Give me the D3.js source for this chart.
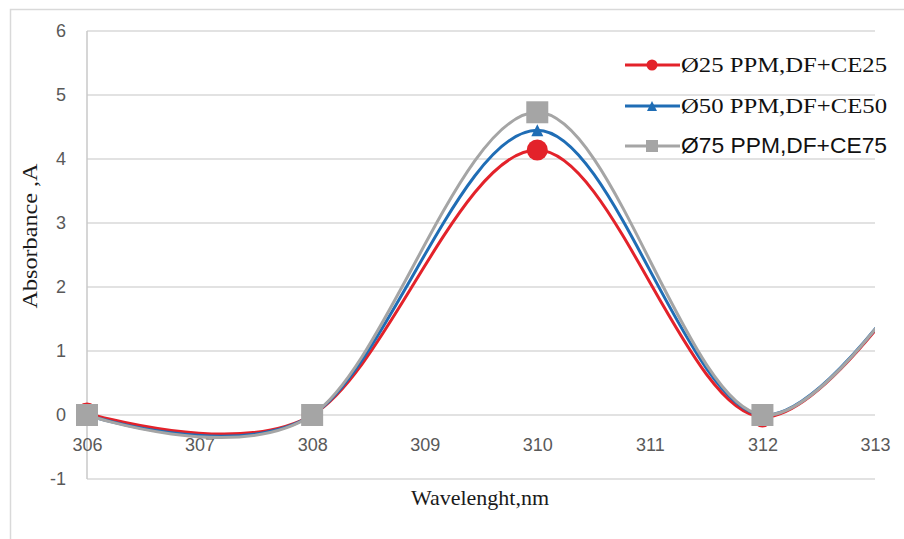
<!DOCTYPE html>
<html>
<head>
<meta charset="utf-8">
<script src="https://cdn.jsdelivr.net/npm/d3@7"></script>
<style>
  html, body { margin: 0; padding: 0; background: #fff; }
  svg { display: block; }
</style>
</head>
<body>
<div id="chart"></div>
<script>
// DATA
const wavelengths = [306, 308, 310, 312, 314];
const ce25 = [0.03, 0, 4.14, -0.03, 3.82];
const ce50 = [0, 0, 4.45, 0, 3.88];
const ce75 = [0, 0, 4.73, 0, 3.92];
const seriesNames = ['Ø25 PPM,DF+CE25', 'Ø50 PPM,DF+CE50', 'Ø75 PPM,DF+CE75'];
const xTicks = [306, 307, 308, 309, 310, 311, 312, 313];
const yTicks = [-1, 0, 1, 2, 3, 4, 5, 6];

const width = 904, height = 539;
const margin = { top: 31, right: 29, bottom: 60, left: 87 };

const svg = d3.select('#chart').append('svg')
    .attr('width', width)
    .attr('height', height);

// outer frame
svg.append('path')
    .attr('d', `M10.5,${height} V9.5 H${width}`)
    .attr('fill', 'none')
    .attr('stroke', '#d9d9d9')
    .attr('stroke-width', 1.5);

const x = d3.scaleLinear()
    .domain([306, 313])
    .range([margin.left, width - margin.right]);

const y = d3.scaleLinear()
    .domain([-1, 6])
    .range([height - margin.bottom, margin.top]);

// GRID
svg.append('g')
    .selectAll('line')
    .data(yTicks)
    .join('line')
    .attr('x1', x(306))
    .attr('x2', x(313))
    .attr('y1', d => y(d))
    .attr('y2', d => y(d))
    .attr('stroke', '#d9d9d9')
    .attr('stroke-width', 1.5);

svg.append('line')
    .attr('x1', x(306)).attr('x2', x(306))
    .attr('y1', y(6)).attr('y2', y(-1))
    .attr('stroke', '#c8c8c8')
    .attr('stroke-width', 1.5);

// AXIS LABELS
const yAxis = svg.append('g')
    .attr('transform', `translate(${x(306) - 21},0)`)
    .call(d3.axisLeft(y).tickValues(yTicks).tickFormat(d => String(d)).tickSize(0).tickPadding(0));
yAxis.select('.domain').remove();
yAxis.selectAll('text')
    .attr('font-family', 'Liberation Sans, Arial, sans-serif')
    .attr('font-size', 18)
    .attr('fill', '#595959');

const xAxis = svg.append('g')
    .attr('transform', `translate(0,${y(0) + 30})`)
    .call(d3.axisBottom(x).tickValues(xTicks).tickFormat(d => String(d)).tickSize(0).tickPadding(0));
xAxis.select('.domain').remove();
xAxis.selectAll('text')
    .attr('font-family', 'Liberation Sans, Arial, sans-serif')
    .attr('font-size', 18)
    .attr('dy', '0.35em')
    .attr('fill', '#595959');

// TITLES
svg.append('text')
    .attr('x', 480)
    .attr('y', 505)
    .attr('text-anchor', 'middle')
    .attr('font-family', 'Liberation Serif, Times New Roman, serif')
    .attr('font-size', 22)
    .attr('fill', '#1a1a1a')
    .text('Wavelenght,nm');

svg.append('text')
    .attr('transform', 'translate(37,236) rotate(-90)')
    .attr('text-anchor', 'middle')
    .attr('font-family', 'Liberation Serif, Times New Roman, serif')
    .attr('font-size', 22)
    .attr('textLength', 145)
    .attr('lengthAdjust', 'spacingAndGlyphs')
    .attr('fill', '#1a1a1a')
    .text('Absorbance ,A');

// SERIES
const series = [
    { name: seriesNames[0], values: ce25, color: '#e3222a', marker: 'circle' },
    { name: seriesNames[1], values: ce50, color: '#1f6db5', marker: 'triangle' },
    { name: seriesNames[2], values: ce75, color: '#a5a5a5', marker: 'square' }
];

svg.append('clipPath').attr('id', 'plot-clip')
    .append('rect')
    .attr('x', x(306) - 2).attr('y', 0)
    .attr('width', x(313) - x(306) + 2).attr('height', height);

const line = d3.line()
    .x(d => x(d[0]))
    .y(d => y(d[1]))
    .curve(d3.curveCardinal.tension(0));

function drawMarker(g, type, cx, cy, size, color) {
    if (type === 'circle') {
        g.append('circle').attr('cx', cx).attr('cy', cy).attr('r', size / 2).attr('fill', color);
    } else if (type === 'triangle') {
        const h = size;
        g.append('path')
            .attr('d', `M${cx},${cy - h / 2} L${cx + size / 2},${cy + h / 2} L${cx - size / 2},${cy + h / 2} Z`)
            .attr('fill', color);
    } else {
        g.append('rect').attr('x', cx - size / 2).attr('y', cy - size / 2)
            .attr('width', size).attr('height', size).attr('fill', color);
    }
}

const markerSize = { circle: 21, triangle: 12, square: 22 };

series.forEach(s => {
    const pts = wavelengths.map((w, i) => [w, s.values[i]]);
    const g = svg.append('g');
    g.append('path')
        .attr('d', line(pts))
        .attr('fill', 'none')
        .attr('stroke', s.color)
        .attr('stroke-width', 3)
        .attr('clip-path', 'url(#plot-clip)');
    pts.filter(p => p[0] <= 313).forEach(p => {
        drawMarker(g, s.marker, x(p[0]), y(p[1]), markerSize[s.marker], s.color);
    });
});

// LEGEND
const legendY = [65, 106, 146];
const legendFonts = ['Liberation Serif, Times New Roman, serif', 'Liberation Serif, Times New Roman, serif', 'Liberation Sans, Arial, sans-serif'];
const legendMarker = { circle: 11, triangle: 10, square: 12 };
series.forEach((s, i) => {
    const g = svg.append('g');
    g.append('line')
        .attr('x1', 625).attr('x2', 680)
        .attr('y1', legendY[i]).attr('y2', legendY[i])
        .attr('stroke', s.color).attr('stroke-width', 3);
    drawMarker(g, s.marker, 652, legendY[i], legendMarker[s.marker], s.color);
    g.append('text')
        .attr('x', 681)
        .attr('y', legendY[i] + 7)
        .attr('font-family', legendFonts[i])
        .attr('font-size', 22)
        .attr('textLength', 206)
        .attr('lengthAdjust', 'spacingAndGlyphs')
        .attr('fill', '#111')
        .text(s.name);
});
</script>
</body>
</html>
